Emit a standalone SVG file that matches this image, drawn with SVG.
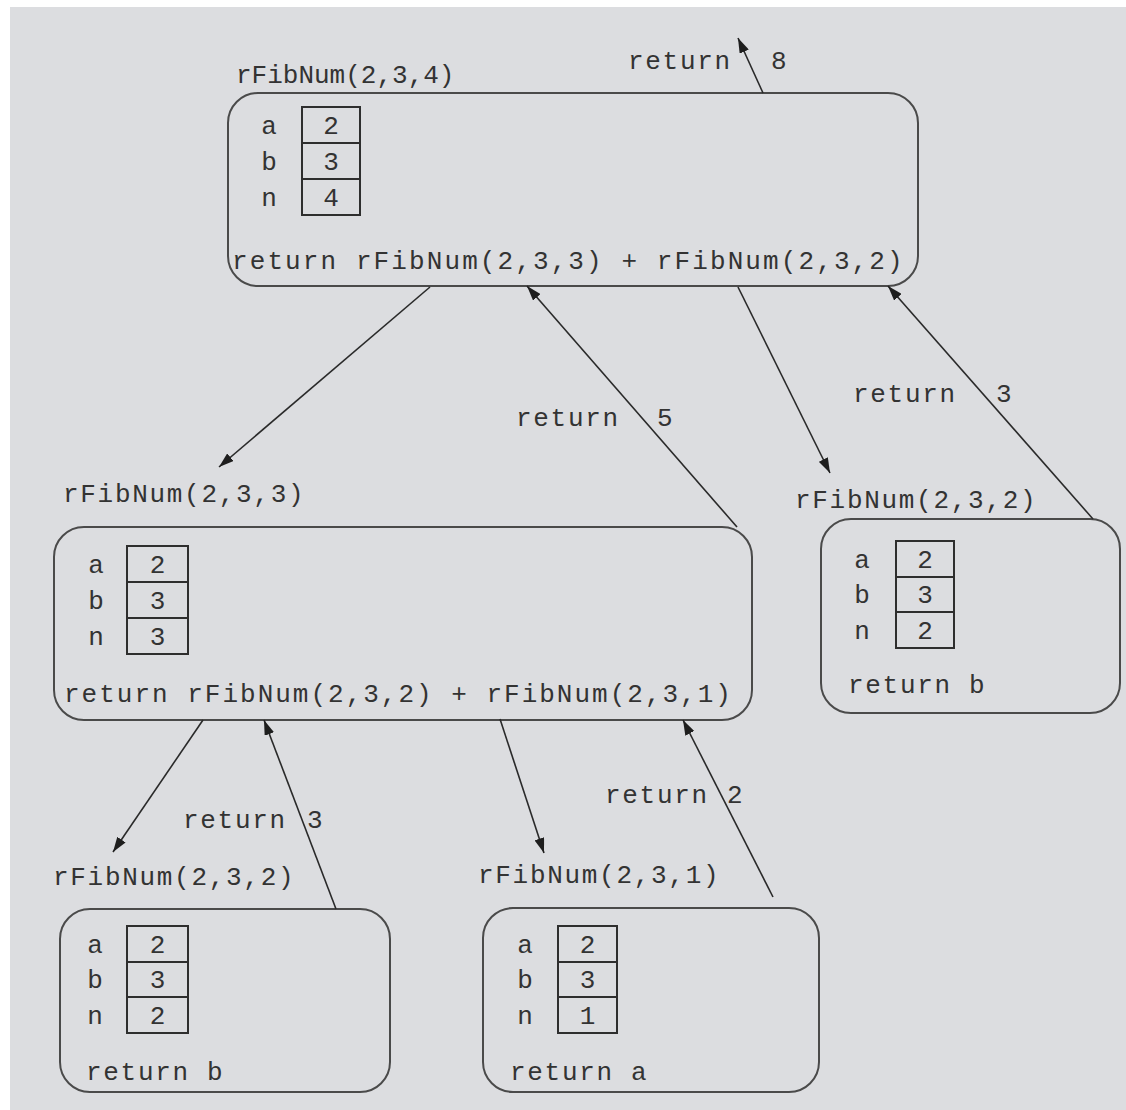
<svg xmlns="http://www.w3.org/2000/svg" width="1126" height="1110" viewBox="0 0 1126 1110">
  <style>
    .bg { fill: #dcdde0; }
    .frame { fill: none; stroke: #4a4a4a; stroke-width: 2; }
    .cell { fill: none; stroke: #2e2e2e; stroke-width: 2; }
    .t { font-family: "Liberation Mono", "Courier New", monospace; font-size: 26px; fill: #333333; }
    .wide { letter-spacing: 1.7px; }
    .mid { text-anchor: middle; }
    .edge { fill: none; stroke: #2a2a2a; stroke-width: 1.6; marker-end: url(#head); }
  </style>
  <defs>
    <marker id="head" markerUnits="userSpaceOnUse" viewBox="0 0 15 10" refX="15" refY="5" markerWidth="15" markerHeight="10" orient="auto">
      <path d="M0,0 L15,5 L0,10 Z" fill="#1e1e1e"/>
    </marker>
  </defs>

  <!-- page -->
  <rect x="0" y="0" width="1126" height="1110" fill="#ffffff"/>
  <rect class="bg" x="10" y="7" width="1116" height="1103"/>

  <!-- rFibNum(2,3,4) -->
  <g id="call-2-3-4">
    <text class="t" x="236" y="83">rFibNum(2,3,4)</text>
    <rect class="frame" x="228" y="93" width="690" height="193" rx="30" ry="30"/>
    <rect class="cell" x="302" y="107" width="58" height="36"/>
    <rect class="cell" x="302" y="143" width="58" height="36"/>
    <rect class="cell" x="302" y="179" width="58" height="36"/>
    <text class="t mid" x="269" y="134">a</text>
    <text class="t mid" x="269" y="170">b</text>
    <text class="t mid" x="269" y="206">n</text>
    <text class="t mid" x="331" y="134">2</text>
    <text class="t mid" x="331" y="170">3</text>
    <text class="t mid" x="331" y="206">4</text>
    <text class="t" x="232" y="269" style="letter-spacing:2.1px">return rFibNum(2,3,3) + rFibNum(2,3,2)</text>
  </g>

  <!-- rFibNum(2,3,3) -->
  <g id="call-2-3-3">
    <text class="t wide" x="63" y="502">rFibNum(2,3,3)</text>
    <rect class="frame" x="54" y="527" width="698" height="193" rx="30" ry="30"/>
    <rect class="cell" x="127" y="546" width="61" height="36"/>
    <rect class="cell" x="127" y="582" width="61" height="36"/>
    <rect class="cell" x="127" y="618" width="61" height="36"/>
    <text class="t mid" x="96" y="573">a</text>
    <text class="t mid" x="96" y="609">b</text>
    <text class="t mid" x="96" y="645">n</text>
    <text class="t mid" x="157.5" y="573">2</text>
    <text class="t mid" x="157.5" y="609">3</text>
    <text class="t mid" x="157.5" y="645">3</text>
    <text class="t" x="64" y="702" style="letter-spacing:2px">return rFibNum(2,3,2) + rFibNum(2,3,1)</text>
  </g>

  <!-- rFibNum(2,3,2), right -->
  <g id="call-2-3-2-right">
    <text class="t wide" x="795" y="508">rFibNum(2,3,2)</text>
    <rect class="frame" x="821" y="519" width="299" height="194" rx="30" ry="30"/>
    <rect class="cell" x="896" y="541" width="58" height="36"/>
    <rect class="cell" x="896" y="577" width="58" height="35"/>
    <rect class="cell" x="896" y="612" width="58" height="36"/>
    <text class="t mid" x="862" y="568">a</text>
    <text class="t mid" x="862" y="603">b</text>
    <text class="t mid" x="862" y="639">n</text>
    <text class="t mid" x="925" y="568">2</text>
    <text class="t mid" x="925" y="603">3</text>
    <text class="t mid" x="925" y="639">2</text>
    <text class="t wide" x="848" y="693">return b</text>
  </g>

  <!-- rFibNum(2,3,2), bottom left -->
  <g id="call-2-3-2-left">
    <text class="t wide" x="53" y="885">rFibNum(2,3,2)</text>
    <rect class="frame" x="60" y="909" width="330" height="183" rx="30" ry="30"/>
    <rect class="cell" x="127" y="926" width="61" height="36"/>
    <rect class="cell" x="127" y="962" width="61" height="35"/>
    <rect class="cell" x="127" y="997" width="61" height="36"/>
    <text class="t mid" x="95" y="953">a</text>
    <text class="t mid" x="95" y="988">b</text>
    <text class="t mid" x="95" y="1024">n</text>
    <text class="t mid" x="157.5" y="953">2</text>
    <text class="t mid" x="157.5" y="988">3</text>
    <text class="t mid" x="157.5" y="1024">2</text>
    <text class="t wide" x="86" y="1080">return b</text>
  </g>

  <!-- rFibNum(2,3,1) -->
  <g id="call-2-3-1">
    <text class="t wide" x="478" y="883">rFibNum(2,3,1)</text>
    <rect class="frame" x="483" y="908" width="336" height="184" rx="30" ry="30"/>
    <rect class="cell" x="558" y="926" width="59" height="36"/>
    <rect class="cell" x="558" y="962" width="59" height="35"/>
    <rect class="cell" x="558" y="997" width="59" height="36"/>
    <text class="t mid" x="525" y="953">a</text>
    <text class="t mid" x="525" y="988">b</text>
    <text class="t mid" x="525" y="1024">n</text>
    <text class="t mid" x="587.5" y="953">2</text>
    <text class="t mid" x="587.5" y="988">3</text>
    <text class="t mid" x="587.5" y="1024">1</text>
    <text class="t wide" x="510" y="1080">return a</text>
  </g>

  <!-- calls and returned values -->
  <g id="connectors">
    <line class="edge" x1="763" y1="93" x2="738" y2="38"/>
    <text class="t wide" x="628" y="69">return</text>
    <text class="t" x="771" y="69">8</text>

    <line class="edge" x1="430" y1="287" x2="219" y2="467"/>

    <line class="edge" x1="737" y1="527" x2="527" y2="286"/>
    <text class="t wide" x="516" y="426">return</text>
    <text class="t" x="657" y="426">5</text>

    <line class="edge" x1="738" y1="287" x2="830" y2="473"/>

    <line class="edge" x1="1093" y1="519" x2="888" y2="286"/>
    <text class="t wide" x="853" y="402">return</text>
    <text class="t" x="996" y="402">3</text>

    <line class="edge" x1="203" y1="720" x2="113" y2="852"/>

    <line class="edge" x1="336" y1="909" x2="264" y2="720"/>
    <text class="t wide" x="183" y="828">return</text>
    <text class="t" x="307" y="828">3</text>

    <line class="edge" x1="500" y1="719" x2="544" y2="853"/>

    <line class="edge" x1="773" y1="897" x2="683" y2="720"/>
    <text class="t wide" x="605" y="803">return</text>
    <text class="t" x="727" y="803">2</text>
  </g>
</svg>
